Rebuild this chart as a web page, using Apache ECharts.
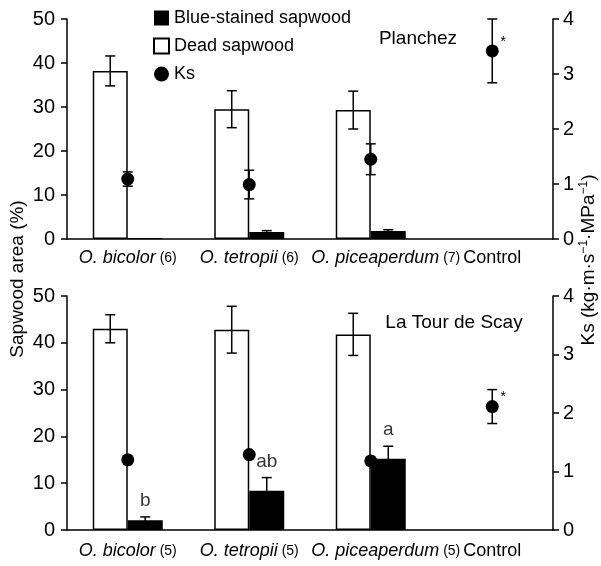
<!DOCTYPE html>
<html><head><meta charset="utf-8">
<script src="https://cdn.jsdelivr.net/npm/echarts@6/dist/echarts.min.js"></script>
<style>html,body{margin:0;padding:0;background:#fff}#c{width:601px;height:566px}</style>
</head><body><div id="c"></div>
<script>
// ---------- data ----------
const categories = ['O. bicolor', 'O. tetropii', 'O. piceaperdum', 'Control'];
const nTop = [6, 6, 7, null];
const nBottom = [5, 5, 5, null];
// Planchez (top panel)
const deadTop = [38.2, 29.5, 29.3, null];
const deadTopErr = [3.4, 4.2, 4.3, null];
const blueTop = [0.2, 1.6, 1.8, null];
const blueTopErr = [0, 0.3, 0.3, null];
const ksTop = [1.09, 0.99, 1.45, 3.42];
const ksTopErr = [0.13, 0.26, 0.28, 0.58];
const ksTopMark = ['', '', '', '*'];
// La Tour de Scay (bottom panel)
const deadBot = [43.0, 42.8, 41.8, null];
const deadBotErr = [3.0, 5.0, 4.5, null];
const blueBot = [2.1, 8.4, 15.2, null];
const blueBotErr = [0.7, 2.8, 2.7, null];
const blueBotLetters = ['b', 'ab', 'a', ''];
const ksBot = [1.2, 1.29, 1.18, 2.11];
const ksBotErr = [0, 0, 0, 0.29];
const ksBotMark = ['', '', '', '*'];
const leftTicks = {min: 0, max: 50, interval: 10};
const rightTicks = {min: 0, max: 4, interval: 1};

// ---------- chart ----------
const FONT = 'Liberation Sans, Arial, Helvetica, sans-serif';
const BW = 35;
const black = '#000';
const chart = echarts.init(document.getElementById('c'), null, {renderer: 'canvas'});

function xAxisCfg(grid, ns, margin) {
  return {
    type: 'category', gridIndex: grid, data: categories,
    axisLine: {lineStyle: {color: black, width: 1.5}},
    axisTick: {length: 5, lineStyle: {color: black, width: 1.5}},
    axisLabel: {
      margin: margin, color: black, fontFamily: FONT, interval: 0,
      formatter: (v, i) => ns[i] == null ? '{r|' + v + '}' :
        (i === 2 ? '{p| }' : '') + '{i|' + v + '}{n| (' + ns[i] + ')}',
      rich: {
        i: {fontStyle: 'italic', fontSize: 18, fontFamily: FONT, color: black},
        n: {fontSize: 14, fontFamily: FONT, color: black},
        r: {fontSize: 18, fontFamily: FONT, color: black},
        p: {width: 30, fontSize: 14}
      }
    }
  };
}
function yAxisCfg(grid, pos, t, margin) {
  return {
    type: 'value', gridIndex: grid, position: pos, min: t.min, max: t.max, interval: t.interval,
    splitLine: {show: false},
    axisLine: {show: true, lineStyle: {color: black, width: 1.5}},
    axisTick: {show: true, length: 6, lineStyle: {color: black, width: 1.5}},
    axisLabel: {color: black, fontSize: 20, fontFamily: FONT, margin: margin}
  };
}
function errSeries(xi, yi, vals, errs, off, z) {
  const data = [];
  vals.forEach((v, i) => { if (v != null && errs[i]) data.push([i, v, errs[i]]); });
  return {
    type: 'custom', xAxisIndex: xi, yAxisIndex: yi, z: z, silent: true, clip: false,
    encode: {x: 0, y: 1}, data: data,
    renderItem(params, api) {
      const i = api.value(0), v = api.value(1), e = api.value(2);
      const hi = api.coord([i, v + e]), lo = api.coord([i, v - e]);
      const x = hi[0] + off, c = 5;
      const st = {stroke: black, lineWidth: 1.5};
      return {type: 'group', children: [
        {type: 'line', shape: {x1: x, y1: hi[1], x2: x, y2: lo[1]}, style: st},
        {type: 'line', shape: {x1: x - c, y1: hi[1], x2: x + c, y2: hi[1]}, style: st},
        {type: 'line', shape: {x1: x - c, y1: lo[1], x2: x + c, y2: lo[1]}, style: st}
      ]};
    }
  };
}
function panelSeries(g, dead, deadErr, blue, blueErr, ks, ksErr, marks) {
  const xi = g, yl = g * 2, yr = g * 2 + 1;
  return [
    {name: 'Dead sapwood', type: 'bar', xAxisIndex: xi, yAxisIndex: yl, data: dead,
     barWidth: BW, barGap: '0%', z: 2,
     itemStyle: {color: '#fff', borderColor: black, borderWidth: 1.5}},
    {name: 'Blue-stained sapwood', type: 'bar', xAxisIndex: xi, yAxisIndex: yl, data: blue,
     barWidth: BW, barGap: '0%', z: 2, itemStyle: {color: black}},
    errSeries(xi, yl, dead, deadErr, -BW / 2, 3),
    errSeries(xi, yl, blue, blueErr, BW / 2, 3),
    errSeries(xi, yr, ks, ksErr, 0, 4),
    {name: 'Ks', type: 'scatter', xAxisIndex: xi, yAxisIndex: yr, z: 5,
     data: ks.map((v, i) => [i, v]), symbol: 'circle', symbolSize: 13,
     itemStyle: {color: black, opacity: 1},
     label: {show: true, position: 'inside', offset: [11, -9], fontSize: 14, color: black,
             fontFamily: FONT, formatter: p => marks[p.dataIndex]}}
  ];
}

const series = [].concat(
  panelSeries(0, deadTop, deadTopErr, blueTop, blueTopErr, ksTop, ksTopErr, ksTopMark),
  panelSeries(1, deadBot, deadBotErr, blueBot, blueBotErr, ksBot, ksBotErr, ksBotMark),
  [{type: 'scatter', xAxisIndex: 1, yAxisIndex: 2, silent: true, z: 6,
    data: blueBot.map((v, i) => v == null ? null : [i, v + blueBotErr[i]]).filter(d => d),
    symbolSize: 1, itemStyle: {color: 'rgba(0,0,0,0)'},
    label: {show: true, position: 'top', distance: 6, offset: [BW / 2, 0], fontSize: 19,
            color: black, fontFamily: FONT, formatter: p => blueBotLetters[p.dataIndex]}}]
);

const option = {
  backgroundColor: '#fff',
  animation: false,
  textStyle: {fontFamily: FONT},
  grid: [
    {left: 67, right: 48, top: 19, height: 220},
    {left: 67, right: 48, top: 296, height: 234}
  ],
  xAxis: [xAxisCfg(0, nTop, 10), xAxisCfg(1, nBottom, 12)],
  yAxis: [yAxisCfg(0, 'left', leftTicks, 12), yAxisCfg(0, 'right', rightTicks, 10),
          yAxisCfg(1, 'left', leftTicks, 12), yAxisCfg(1, 'right', rightTicks, 10)],
  legend: {
    orient: 'vertical', left: 148, top: 4, itemWidth: 15, itemHeight: 15, itemGap: 10,
    selectedMode: false,
    textStyle: {fontSize: 18, color: black, fontFamily: FONT, lineHeight: 18},
    data: [{name: 'Blue-stained sapwood', icon: 'rect'}, {name: 'Dead sapwood', icon: 'rect'},
           {name: 'Ks', icon: 'circle'}]
  },
  graphic: [
    {type: 'text', x: 418, y: 39, style: {text: 'Planchez', fontSize: 19, fontFamily: FONT, fill: black, textAlign: 'center', textVerticalAlign: 'middle'}},
    {type: 'text', x: 454, y: 323, style: {text: 'La Tour de Scay', fontSize: 19, fontFamily: FONT, fill: black, textAlign: 'center', textVerticalAlign: 'middle'}},
    {type: 'text', x: 18, y: 279, rotation: Math.PI / 2, style: {text: 'Sapwood area (%)', fontSize: 19, fontFamily: FONT, fill: black, textAlign: 'center', textVerticalAlign: 'middle'}},
    {type: 'text', x: 589, y: 260, rotation: Math.PI / 2, style: {
      text: 'Ks (kg·m·s{s|−1}·MPa{s|−1})', fontSize: 19, fontFamily: FONT, fill: black,
      textAlign: 'center', textVerticalAlign: 'middle',
      rich: {s: {fontSize: 12, fontFamily: FONT, fill: black, padding: [0, 0, 10, 0]}}}}
  ],
  series: series
};
chart.setOption(option);
</script>
</body></html>
